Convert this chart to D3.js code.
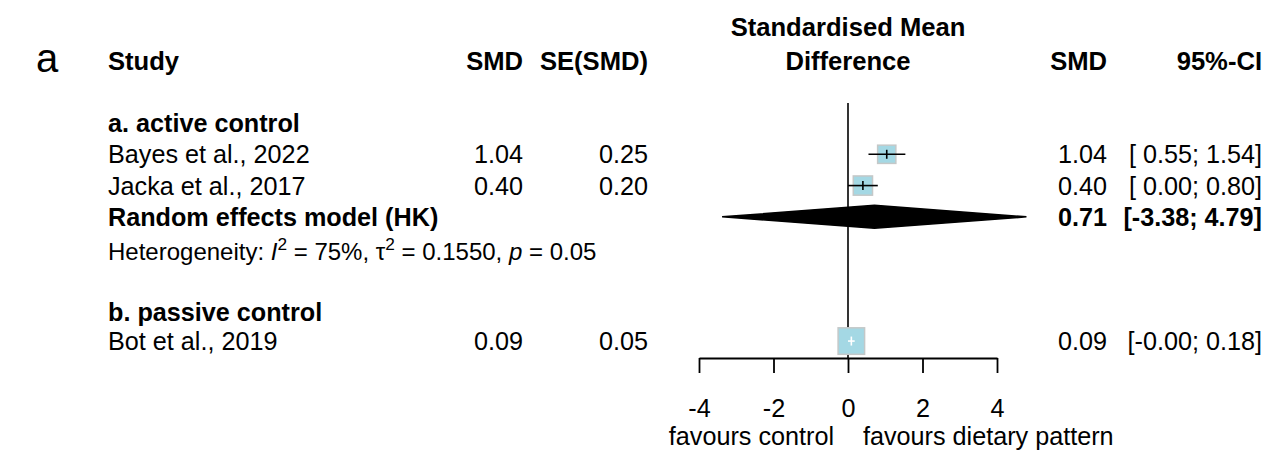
<!DOCTYPE html>
<html><head><meta charset="utf-8">
<script src="https://cdn.jsdelivr.net/npm/d3@7"></script>
<style>
html,body{margin:0;padding:0;background:#fff;}
svg text{font-family:"Liberation Sans",Arial,sans-serif;fill:#000;white-space:pre;}
</style></head>
<body>
<svg id="chart" width="1274" height="455"></svg>
<script>
// ---- data ----
const groups = ["a. active control", "b. passive control"];
const studies = ["Bayes et al., 2022", "Jacka et al., 2017", "Bot et al., 2019"];
const studyGroup = [0, 0, 1];
const smd = [1.04, 0.40, 0.09];
const se = [0.25, 0.20, 0.05];
const ciLow = [0.55, 0.00, -0.00];
const ciHigh = [1.54, 0.80, 0.18];
const ciText = ["[ 0.55; 1.54]", "[ 0.00; 0.80]", "[-0.00; 0.18]"];
const weights = [47.3, 52.7, 100];
const pooledLabel = "Random effects model (HK)";
const pooledSMD = 0.71;
const pooledLow = -3.38;
const pooledHigh = 4.79;
const pooledCIText = "[-3.38; 4.79]";
const hetI2 = "75%", hetTau2 = "0.1550", hetP = "0.05";
const tickValues = [-4, -2, 0, 2, 4];
const labelLeft = "favours control";
const labelRight = "favours dietary pattern";

// row indices (layout order)
const rowGroupA = 0, rowStudies = [1, 2, 6.97], rowPooled = 3, rowHet = 4, rowGroupB = 6.05;

const svg = d3.select("#chart");
const FS = 25.2;   // regular text
const FB = 25.6;   // bold header text

const x = d3.scaleLinear().domain([-4, 4]).range([699, 997]);
const y = d3.scaleLinear().domain([0, 7]).range([123, 342]);
const sq = d3.scaleSqrt().domain([0, 100]).range([0, 26.5]);
const axisY = 358;

const base = v => y(v) + FS * 0.355;

// panel letter
svg.append("text").attr("x", 36).attr("y", 72).attr("font-size", 40).text("a");

// headers
const hdrY = base(-2) + 1;
const hdr = (t, xx, anchor) => svg.append("text").attr("x", xx).attr("y", hdrY)
  .attr("font-size", FB).attr("font-weight", "bold").attr("text-anchor", anchor).text(t);
hdr("Study", 108, "start");
hdr("SMD", 523, "end");
hdr("SE(SMD)", 648, "end");
hdr("Difference", x(0), "middle");
hdr("SMD", 1107, "end");
hdr("95%-CI", 1262, "end");
svg.append("text").attr("x", x(0)).attr("y", 36).attr("font-size", FB)
  .attr("font-weight", "bold").attr("text-anchor", "middle").text("Standardised Mean");

// group labels
[rowGroupA, rowGroupB].forEach((r, i) => {
  svg.append("text").attr("x", 108).attr("y", base(r)).attr("font-size", FS)
    .attr("font-weight", "bold").text(groups[i]);
});

// reference line at 0
svg.append("line").attr("x1", x(0)).attr("x2", x(0)).attr("y1", 103).attr("y2", axisY)
  .attr("stroke", "#000").attr("stroke-width", 1.6);

// studies
studies.forEach((s, i) => {
  const r = rowStudies[i];
  const by = base(r);
  svg.append("text").attr("x", 108).attr("y", by).attr("font-size", FS).text(s);
  svg.append("text").attr("x", 523).attr("y", by).attr("font-size", FS).attr("text-anchor", "end").text(smd[i].toFixed(2));
  svg.append("text").attr("x", 648).attr("y", by).attr("font-size", FS).attr("text-anchor", "end").text(se[i].toFixed(2));
  svg.append("text").attr("x", 1107).attr("y", by).attr("font-size", FS).attr("text-anchor", "end").text(smd[i].toFixed(2));
  svg.append("text").attr("x", 1262).attr("y", by).attr("font-size", FS).attr("text-anchor", "end").text(ciText[i]);

  const cy = y(r);
  const side = sq(weights[i]);
  svg.append("rect").attr("x", x(smd[i]) - side / 2).attr("y", cy - side / 2)
    .attr("width", side).attr("height", side)
    .attr("fill", "#a4d8e4").attr("stroke", "#c4c8c8").attr("stroke-width", 1.5);
  const inside = (x(ciHigh[i]) - x(ciLow[i])) < side;
  const col = inside ? "#fff" : "#000";
  svg.append("line").attr("x1", x(ciLow[i])).attr("x2", x(ciHigh[i])).attr("y1", cy).attr("y2", cy)
    .attr("stroke", col).attr("stroke-width", 1.6);
  svg.append("line").attr("x1", x(smd[i])).attr("x2", x(smd[i])).attr("y1", cy - 4.5).attr("y2", cy + 4.5)
    .attr("stroke", col).attr("stroke-width", 1.6);
});

// pooled
{
  const by = base(rowPooled);
  svg.append("text").attr("x", 108).attr("y", by).attr("font-size", FS).attr("font-weight", "bold").text(pooledLabel);
  svg.append("text").attr("x", 1107).attr("y", by).attr("font-size", FS).attr("font-weight", "bold").attr("text-anchor", "end").text(pooledSMD.toFixed(2));
  svg.append("text").attr("x", 1262).attr("y", by).attr("font-size", FS).attr("font-weight", "bold").attr("text-anchor", "end").text(pooledCIText);
  const cy = y(rowPooled), h = 11.5;
  const pts = [[x(pooledLow), cy], [x(pooledSMD), cy - h], [x(pooledHigh), cy], [x(pooledSMD), cy + h]];
  svg.append("path").attr("d", d3.line()(pts) + "Z").attr("fill", "#000").attr("stroke", "#000").attr("stroke-width", 1.5);
}

// heterogeneity
{
  const hf = 24;
  const t = svg.append("text").attr("x", 108).attr("y", y(rowHet) + 12).attr("font-size", hf);
  t.append("tspan").text("Heterogeneity: ");
  t.append("tspan").attr("font-style", "italic").text("I");
  t.append("tspan").attr("font-size", hf * 0.72).attr("dy", -10).text("2");
  t.append("tspan").attr("dy", 10).text(" = " + hetI2 + ", τ");
  t.append("tspan").attr("font-size", hf * 0.72).attr("dy", -10).text("2");
  t.append("tspan").attr("dy", 10).text(" = " + hetTau2 + ", ");
  t.append("tspan").attr("font-style", "italic").text("p");
  t.append("tspan").text(" = " + hetP);
}

// axis
const axis = d3.axisBottom(x).tickValues(tickValues).tickSize(15).tickSizeOuter(0).tickPadding(26)
  .tickFormat(d3.format("d"));
const ag = svg.append("g").attr("transform", `translate(0,${axisY})`).call(axis);
ag.select(".domain").attr("stroke", "#000").attr("stroke-width", 1.8);
ag.selectAll(".tick line").attr("stroke", "#000").attr("stroke-width", 1.8);
ag.selectAll(".tick text").attr("font-size", FS).attr("fill", "#000")
  .style("font-family", '"Liberation Sans",Arial,sans-serif')
  .text(d => d < 0 ? "-" + Math.abs(d) : String(d));

svg.append("text").attr("x", x(0) - 14).attr("y", 445).attr("font-size", FS).attr("text-anchor", "end").text(labelLeft);
svg.append("text").attr("x", x(0) + 15).attr("y", 445).attr("font-size", FS).attr("text-anchor", "start").text(labelRight);
</script>
</body></html>
